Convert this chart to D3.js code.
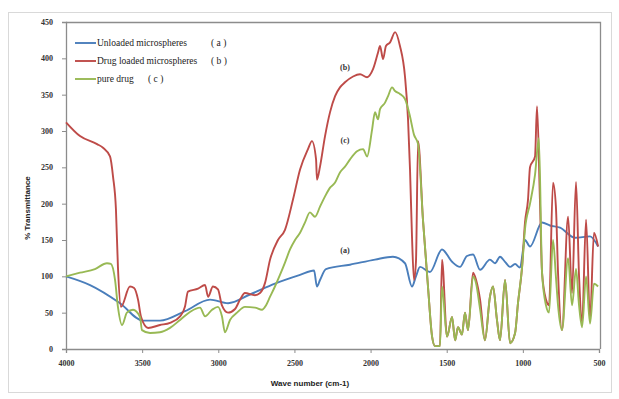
<!DOCTYPE html>
<html>
<head>
<meta charset="utf-8">
<script src="https://cdn.jsdelivr.net/npm/d3@7"></script>
<style>
  body { margin: 0; background: #fff; }
  svg { display: block; }
</style>
</head>
<body>
<div id="chart"></div>
<script>
// wave numbers (cm-1) and % transmittance
const unloadedWave = [4000, 3842, 3645, 3494, 3383, 3219, 3054, 2936, 2792, 2628, 2463, 2371, 2352, 2332, 2293, 2135, 1971, 1853, 1774, 1728, 1702, 1675, 1610, 1531, 1465, 1413, 1367, 1327, 1281, 1216, 1183, 1150, 1117, 1084, 1051, 1019, 986, 953, 874, 822, 756, 657, 559, 506];
const unloadedT = [100, 88, 63, 39, 39, 52, 68, 63, 75, 90, 102, 108, 86, 95, 110, 116, 123, 127, 118, 86, 100, 113, 106, 137, 120, 113, 128, 130, 109, 123, 118, 127, 120, 113, 117, 112, 150, 141, 174, 170, 167, 153, 155, 141];

const loadedWave = [4000, 3908, 3796, 3757, 3711, 3691, 3672, 3659, 3639, 3580, 3553, 3527, 3507, 3461, 3383, 3317, 3251, 3219, 3199, 3133, 3087, 3067, 3035, 3002, 2976, 2936, 2890, 2857, 2825, 2759, 2726, 2693, 2660, 2608, 2562, 2509, 2463, 2411, 2385, 2358, 2352, 2332, 2299, 2266, 2233, 2201, 2168, 2115, 2069, 2023, 1984, 1951, 1938, 1918, 1899, 1872, 1839, 1807, 1774, 1754, 1741, 1728, 1715, 1702, 1688, 1656, 1623, 1596, 1577, 1544, 1531, 1498, 1465, 1445, 1426, 1400, 1380, 1360, 1327, 1307, 1281, 1249, 1216, 1196, 1170, 1150, 1117, 1084, 1051, 1032, 1005, 986, 966, 953, 920, 907, 888, 874, 848, 828, 802, 783, 769, 743, 703, 677, 651, 631, 611, 585, 559, 533, 506];
const loadedT = [312, 293, 282, 277, 265, 237, 192, 113, 58, 86, 84, 68, 44, 29, 33, 36, 45, 58, 79, 83, 88, 72, 86, 82, 60, 50, 55, 68, 77, 74, 77, 91, 123, 150, 164, 206, 247, 275, 286, 261, 233, 251, 293, 326, 348, 360, 367, 375, 378, 374, 385, 408, 417, 399, 417, 422, 436, 417, 375, 316, 247, 155, 95, 120, 286, 178, 86, 17, 4, 4, 123, 17, 44, 12, 30, 20, 50, 26, 105, 95, 68, 12, 72, 86, 40, 12, 95, 8, 22, 63, 113, 174, 206, 250, 265, 334, 206, 105, 68, 60, 229, 196, 105, 26, 182, 77, 230, 100, 37, 178, 40, 160, 141];

const pureWave = [4000, 3908, 3810, 3731, 3705, 3678, 3659, 3632, 3600, 3560, 3514, 3501, 3448, 3383, 3317, 3251, 3186, 3120, 3087, 3041, 3002, 2976, 2956, 2923, 2877, 2825, 2759, 2713, 2687, 2660, 2628, 2595, 2562, 2529, 2496, 2463, 2431, 2398, 2365, 2332, 2299, 2266, 2233, 2201, 2168, 2135, 2089, 2049, 2023, 1990, 1971, 1951, 1938, 1905, 1885, 1859, 1839, 1807, 1774, 1741, 1715, 1688, 1656, 1623, 1596, 1577, 1544, 1531, 1498, 1465, 1445, 1426, 1400, 1380, 1360, 1327, 1307, 1281, 1249, 1216, 1196, 1170, 1150, 1117, 1084, 1051, 1032, 1005, 986, 953, 920, 895, 874, 848, 828, 802, 783, 769, 743, 703, 677, 651, 631, 611, 585, 559, 533, 506];
const pureT = [100, 105, 110, 118, 117, 95, 58, 33, 50, 54, 44, 26, 22, 23, 29, 40, 51, 57, 45, 54, 58, 45, 23, 40, 50, 58, 57, 54, 60, 72, 86, 102, 119, 137, 150, 160, 174, 188, 182, 196, 210, 222, 229, 243, 251, 261, 272, 275, 265, 302, 326, 316, 330, 339, 348, 360, 355, 351, 344, 320, 295, 282, 178, 86, 17, 4, 4, 86, 17, 44, 12, 30, 20, 50, 26, 100, 90, 55, 12, 72, 86, 40, 12, 95, 8, 22, 63, 113, 165, 200, 240, 290, 105, 60, 50, 150, 100, 60, 26, 125, 60, 110, 60, 30, 100, 35, 90, 86];

const seriesNames = ["Unloaded microspheres", "Drug loaded microspheres", "pure drug"];
const seriesTags = ["( a )", "( b )", "( c )"];
const seriesColors = ["#4a7ebb", "#be4b48", "#98b954"];
const xTicks = [4000, 3500, 3000, 2500, 2000, 1500, 1000, 500];
const yTicks = [0, 50, 100, 150, 200, 250, 300, 350, 400, 450];

const width = 619, height = 399;
const margin = { left: 66, top: 22, right: 20, bottom: 50 };

const svg = d3.select("#chart").append("svg")
  .attr("width", width)
  .attr("height", height);

// outer chart frame
svg.append("rect")
  .attr("x", 8.5).attr("y", 12.5)
  .attr("width", 603).attr("height", 380)
  .attr("fill", "#fff")
  .attr("stroke", "#d9d9d9");

const x = d3.scaleLinear().domain([4000, 500]).range([margin.left, width - margin.right]);
const y = d3.scaleLinear().domain([0, 450]).range([height - margin.bottom, margin.top]);

// plot area border (top & right)
svg.append("path")
  .attr("d", `M${x(4000)},${y(450) + 0.5}H${x(500) + 1.5}V${y(0)}`)
  .attr("fill", "none")
  .attr("stroke", "#8c8c8c")
  .attr("stroke-width", 1.3);

const xAxis = d3.axisBottom(x).tickValues(xTicks).tickSize(4).tickFormat(d3.format("d"));
const yAxis = d3.axisLeft(y).tickValues(yTicks).tickSize(4).tickFormat(d3.format("d"));

const xAxisG = svg.append("g")
  .attr("transform", `translate(0,${y(0)})`)
  .call(xAxis);
const yAxisG = svg.append("g")
  .attr("transform", `translate(${x(4000)},0)`)
  .call(yAxis);

[xAxisG, yAxisG].forEach(g => {
  g.select(".domain").attr("stroke", "#8c8c8c").attr("stroke-width", 1.3);
  g.selectAll(".tick line").attr("stroke", "#8c8c8c");
  g.selectAll(".tick text")
    .attr("fill", "#333")
    .style("font-family", "'Liberation Serif', 'Times New Roman', serif")
    .style("font-size", "8px")
    .style("font-weight", "bold");
});
xAxisG.selectAll(".tick text").attr("dy", "1.3em");
yAxisG.selectAll(".tick text").attr("dx", "-6");

// axis titles
svg.append("text")
  .attr("x", 310).attr("y", 386)
  .attr("text-anchor", "middle")
  .style("font-family", "'Liberation Sans', Arial, sans-serif")
  .style("font-size", "8px")
  .style("font-weight", "bold")
  .attr("fill", "#222")
  .text("Wave number (cm-1)");

svg.append("text")
  .attr("transform", "translate(30,208) rotate(-90)")
  .attr("text-anchor", "middle")
  .style("font-family", "'Liberation Sans', Arial, sans-serif")
  .style("font-size", "8px")
  .style("font-weight", "bold")
  .attr("fill", "#222")
  .text("% Transmittance");

// spectra
const line = d3.line().x(d => x(d[0])).y(d => y(d[1])).curve(d3.curveMonotoneX);
const series = [
  d3.zip(unloadedWave, unloadedT),
  d3.zip(loadedWave, loadedT),
  d3.zip(pureWave, pureT)
];

svg.append("g").selectAll("path")
  .data(series)
  .join("path")
  .attr("d", line)
  .attr("fill", "none")
  .attr("stroke", (d, i) => seriesColors[i])
  .attr("stroke-width", 1.9)
  .attr("stroke-linejoin", "round");

// legend
const legendY = [43, 61, 79];
const legendTagX = [211, 211, 148];
const legend = svg.append("g")
  .style("font-family", "'Liberation Serif', 'Times New Roman', serif")
  .style("font-size", "9.5px")
  .attr("fill", "#222");

seriesNames.forEach((name, i) => {
  legend.append("line")
    .attr("x1", 75).attr("x2", 96)
    .attr("y1", legendY[i]).attr("y2", legendY[i])
    .attr("stroke", seriesColors[i])
    .attr("stroke-width", 1.9);
  legend.append("text")
    .attr("x", 97).attr("y", legendY[i] + 3)
    .text(name);
  legend.append("text")
    .attr("x", legendTagX[i]).attr("y", legendY[i] + 3)
    .text(seriesTags[i]);
});

// curve annotations
const annotY = [250, 67, 140];
svg.append("g").selectAll("text")
  .data(seriesTags)
  .join("text")
  .attr("x", 345)
  .attr("y", (d, i) => annotY[i] + 3)
  .attr("text-anchor", "middle")
  .style("font-family", "'Liberation Serif', 'Times New Roman', serif")
  .style("font-size", "8px")
  .style("font-weight", "bold")
  .attr("fill", "#333")
  .text(d => d.replace(/ /g, ""));
</script>
</body>
</html>
